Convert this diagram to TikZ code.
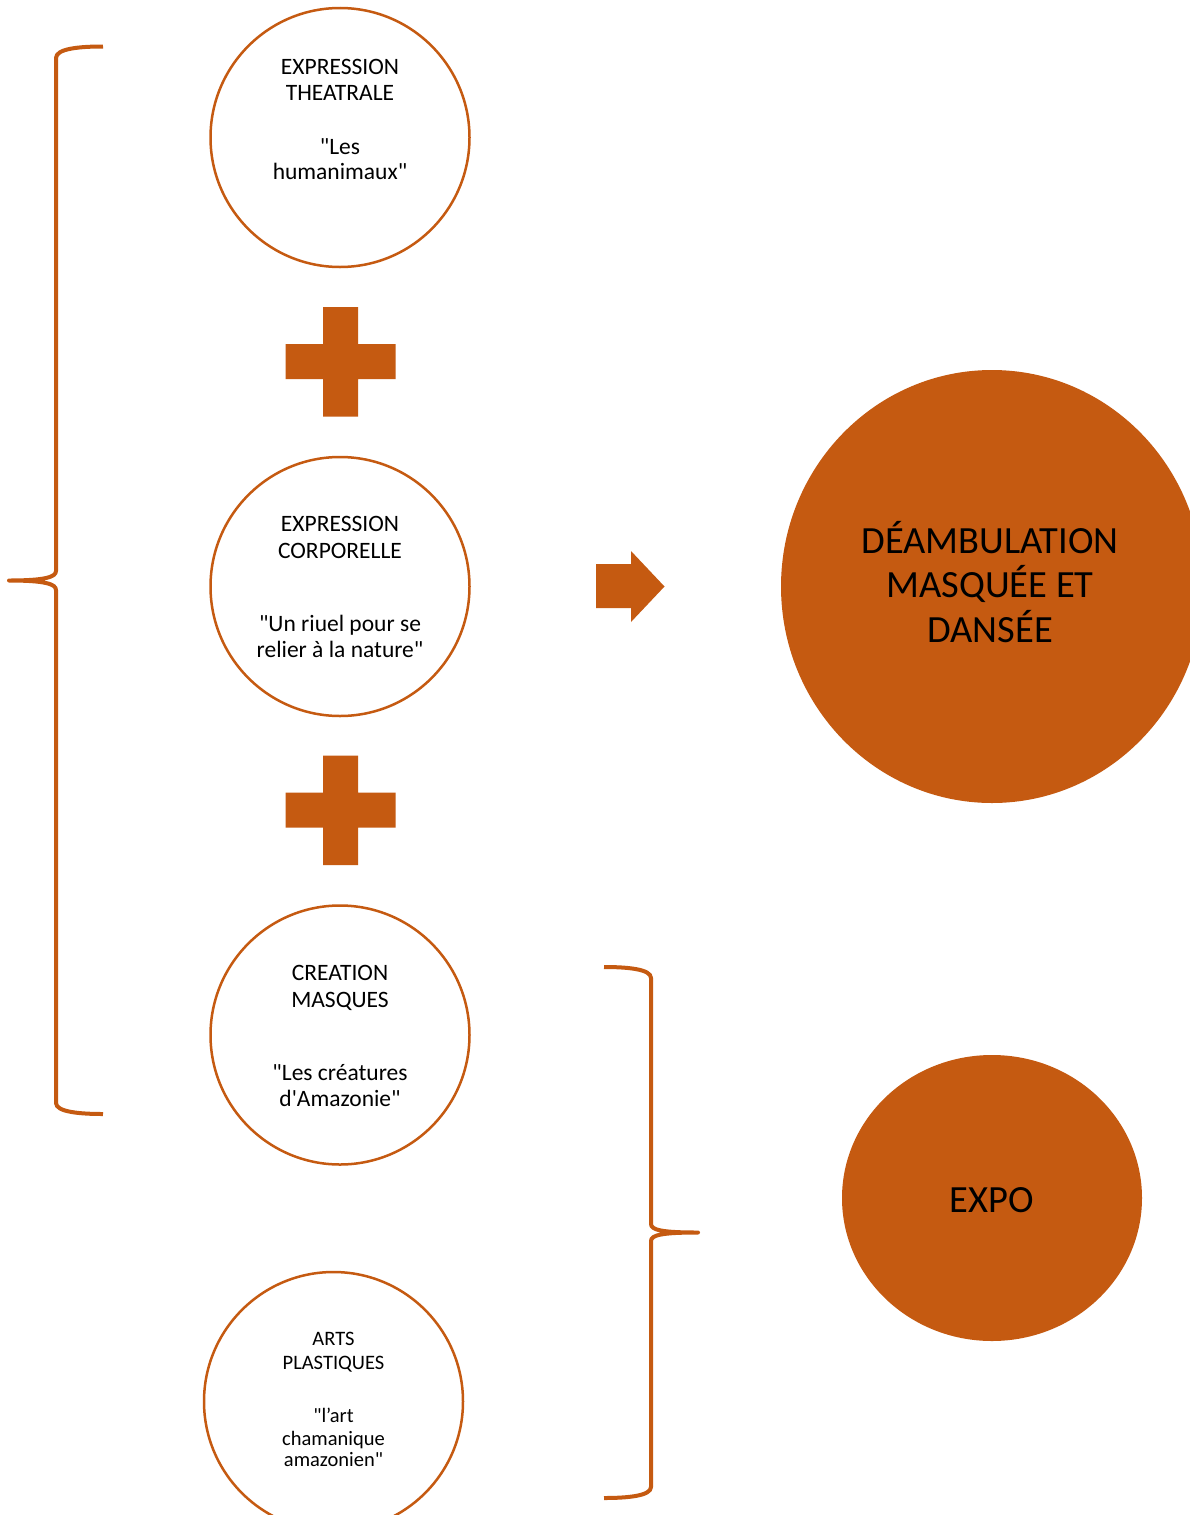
\documentclass[tikz,border=0pt]{standalone}
\usepackage{fontspec}
\setmainfont{Carlito}[Ligatures=TeXOff]
\usetikzlibrary{shapes.geometric}
\definecolor{orng}{HTML}{C55A11}
\newcommand{\dqt}{\symbol{34}}
\newcommand{\sqt}{\symbol{39}}
\tikzset{
  ring/.style={circle,draw=orng,line width=2.5pt,minimum size=259pt,inner sep=0pt},
  disc/.style={ellipse,fill=orng,inner sep=0pt},
  txt/.style={inner sep=0pt,anchor=center,text depth=0pt,font=\fontsize{23.5}{26.5}\selectfont,text height=15.1pt},
  stxt/.style={inner sep=0pt,anchor=center,text depth=0pt,font=\fontsize{20.5}{23}\selectfont,text height=13.2pt},
  btxt/.style={inner sep=0pt,anchor=center,text depth=0pt,font=\fontsize{38.5}{44}\selectfont,text height=24.8pt},
  bracestyle/.style={draw=orng,line width=4pt,line join=round,line cap=butt},
  shapefill/.style={fill=orng,draw=none}
}
\begin{document}
\begin{tikzpicture}[x=1pt,y=-1pt]
\clip (0,0) rectangle (1190,1515);
\fill[white] (0,0) rectangle (1190,1515);
% circles
\node[ring] (c1) at (340,137.5) {};
\node[ring] (c2) at (340,586.5) {};
\node[ring] (c3) at (340,1035) {};
\node[ring] (c4) at (333.5,1401.5) {};
\node[disc,minimum width=422pt,minimum height=433pt] (big) at (992,586.5) {};
\node[disc,minimum width=300pt,minimum height=286pt] (expo) at (992,1198) {};
% texts circle 1
\node[txt] (t1a) at (340,66.5) {EXPRESSION};
\node[txt] (t1b) at (340,93) {THEATRALE};
\node[txt] (t1c) at (340,147) {\dqt Les};
\node[txt] (t1d) at (340,172) {humanimaux\dqt};
% circle 2
\node[txt] (t2a) at (340,523.5) {EXPRESSION};
\node[txt] (t2b) at (340,550.5) {CORPORELLE};
\node[txt] (t2c) at (340,623.5) {\dqt Un riuel pour se};
\node[txt] (t2d) at (340,649.5) {relier à la nature\dqt};
% circle 3
\node[txt] (t3a) at (340,972.5) {CREATION};
\node[txt] (t3b) at (340,999.5) {MASQUES};
\node[txt] (t3c) at (340,1072.5) {\dqt Les créatures};
\node[txt] (t3d) at (340,1098.5) {d\sqt Amazonie\dqt};
% circle 4
\node[stxt] (t4a) at (333.5,1338.5) {ARTS};
\node[stxt] (t4b) at (333.5,1363) {PLASTIQUES};
\node[stxt] (t4c) at (333.5,1415.5) {\dqt l’art};
\node[stxt] (t4d) at (333.5,1439) {chamanique};
\node[stxt] (t4e) at (333.5,1460) {amazonien\dqt};
% big texts
\node[btxt] (b1) at (990,541.5) {DÉAMBULATION};
\node[btxt] (b2) at (990,585.5) {MASQUÉE ET};
\node[btxt] (b3) at (990,630) {DANSÉE};
\node[btxt] (e1) at (992,1200.5) {EXPO};
% plus signs
\fill[shapefill] (323,307) -- (358,307) -- (358,344) -- (395.5,344) -- (395.5,379) -- (358,379) -- (358,416.5) -- (323,416.5) -- (323,379) -- (285.5,379) -- (285.5,344) -- (323,344) -- cycle;
\fill[shapefill] (323,755.5) -- (358,755.5) -- (358,792.5) -- (395.5,792.5) -- (395.5,827.5) -- (358,827.5) -- (358,865) -- (323,865) -- (323,827.5) -- (285.5,827.5) -- (285.5,792.5) -- (323,792.5) -- cycle;
% arrow
\fill[shapefill] (596,564) -- (631,564) -- (631,551) -- (664.5,586.5) -- (631,622) -- (631,608) -- (596,608) -- cycle;
% left brace
\draw[bracestyle] (103,46.5) .. controls (80,46.5) and (56,48.5) .. (56,58) -- (56,571)
  .. controls (56,577) and (45,580.5) .. (9,580.5)
  .. controls (45,580.5) and (56,584) .. (56,590) -- (56,1103)
  .. controls (56,1112) and (80,1114) .. (103,1114);
% right brace
\draw[bracestyle] (604,967) .. controls (627,967) and (651,969) .. (651,978) -- (651,1224)
  .. controls (651,1230) and (662,1232.5) .. (698,1232.5)
  .. controls (662,1232.5) and (651,1235) .. (651,1241) -- (651,1487)
  .. controls (651,1496) and (627,1498) .. (604,1498);
\end{tikzpicture}
\end{document}
